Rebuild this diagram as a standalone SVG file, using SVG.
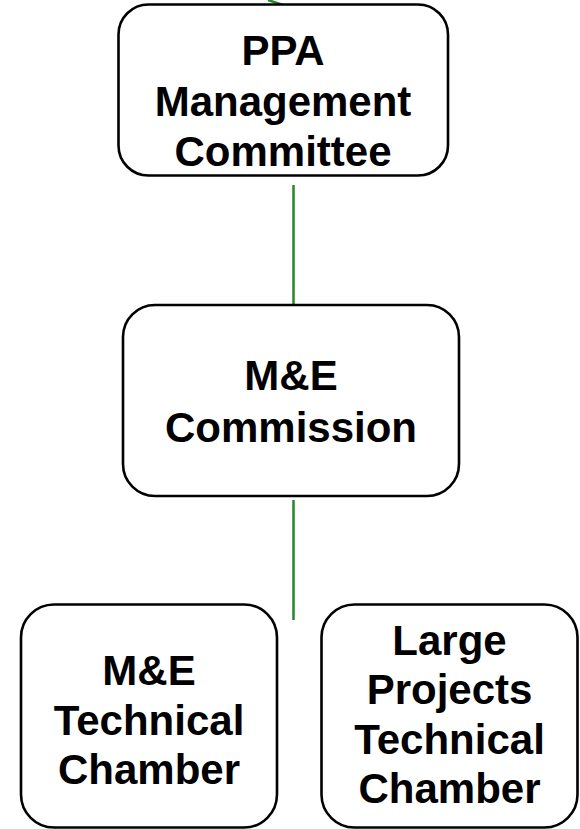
<svg xmlns="http://www.w3.org/2000/svg" width="580" height="829" viewBox="0 0 580 829">
<style>
.box{fill:#fff;stroke:#000;stroke-width:2.6}
.lbl{font-family:"Liberation Sans",Arial,sans-serif;font-weight:bold;font-size:42px;fill:#000;text-anchor:middle}
.conn{stroke:#2b852b;stroke-width:2.5;fill:none}
</style>
<rect width="580" height="829" fill="#fff"/>
<g id="connectors">
<line class="conn" x1="268" y1="0" x2="283" y2="5"/>
<line class="conn" x1="293.5" y1="185" x2="293.5" y2="305"/>
<line class="conn" x1="293.5" y1="500" x2="293.5" y2="620"/>
</g>
<g id="ppa">
<rect class="box" x="118.5" y="4.5" width="329.5" height="171" rx="30"/>
<text class="lbl" x="283" y="65">PPA</text>
<text class="lbl" x="283" y="116">Management</text>
<text class="lbl" x="283" y="166">Committee</text>
</g>
<g id="me-commission">
<rect class="box" x="123" y="305" width="336" height="191" rx="32"/>
<text class="lbl" x="291" y="390">M&amp;E</text>
<text class="lbl" x="291" y="442">Commission</text>
</g>
<g id="me-technical">
<rect class="box" x="21" y="604.5" width="256" height="223" rx="33"/>
<text class="lbl" x="149" y="685">M&amp;E</text>
<text class="lbl" x="149" y="735">Technical</text>
<text class="lbl" x="149" y="784">Chamber</text>
</g>
<g id="large-projects">
<rect class="box" x="321.5" y="604.5" width="256" height="223" rx="33"/>
<text class="lbl" x="449.5" y="655">Large</text>
<text class="lbl" x="449.5" y="704">Projects</text>
<text class="lbl" x="449.5" y="754">Technical</text>
<text class="lbl" x="449.5" y="803">Chamber</text>
</g>
</svg>
